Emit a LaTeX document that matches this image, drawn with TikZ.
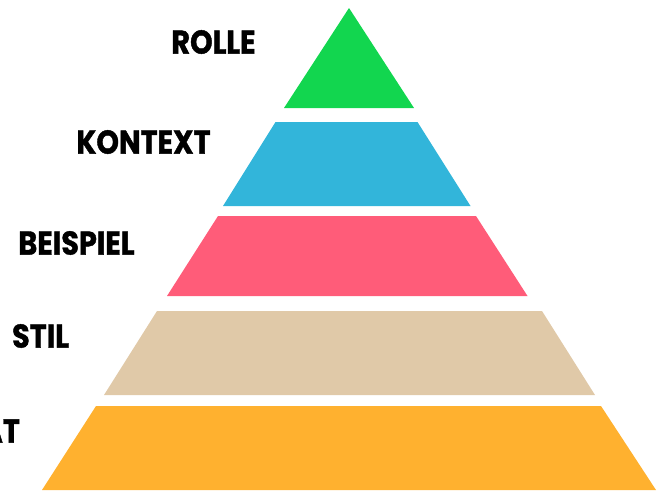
\documentclass[tikz,border=0pt]{standalone}
\usepackage{fontspec}
\setmainfont{Poppins}[FakeStretch=0.87,BoldFeatures={FakeBold=1.2}]
\definecolor{cgreen}{HTML}{12D64F}
\definecolor{cblue}{HTML}{32B5DA}
\definecolor{cpink}{HTML}{FF5C79}
\definecolor{ctan}{HTML}{E0C9A8}
\definecolor{corange}{HTML}{FFB12F}
\tikzset{
  tier/.style={draw=none},
  lbl/.style={font=\fontsize{33}{33}\selectfont\bfseries, text=black, inner sep=0pt, anchor=center}
}
\begin{document}
\begin{tikzpicture}[x=1pt,y=-1pt]
\useasboundingbox (0,0) rectangle (663,491);
\clip (0,0) rectangle (663,491);
\fill[tier,cgreen] (349,8) -- (414,108) -- (284,108) -- cycle;
\fill[tier,cblue] (275.5,122) -- (417.5,122) -- (470.5,206) -- (223,206) -- cycle;
\fill[tier,cpink] (218,216) -- (476,216) -- (527.5,296) -- (167,296) -- cycle;
\fill[tier,ctan] (157,311) -- (542,311) -- (595,395) -- (104,395) -- cycle;
\fill[tier,corange] (96,406) -- (601,406) -- (656,490) -- (42,490) -- cycle;
\node[lbl] (rolle) at (213.5,42) {ROLLE};
\node[lbl] (kontext) at (143.5,142) {KONTEXT};
\node[lbl] (beispiel) at (76.5,243) {BEISPIEL};
\node[lbl] (stil) at (40.5,336) {STIL};
\node[lbl,anchor=east] (format) at (20,431) {AT};
\end{tikzpicture}
\end{document}
